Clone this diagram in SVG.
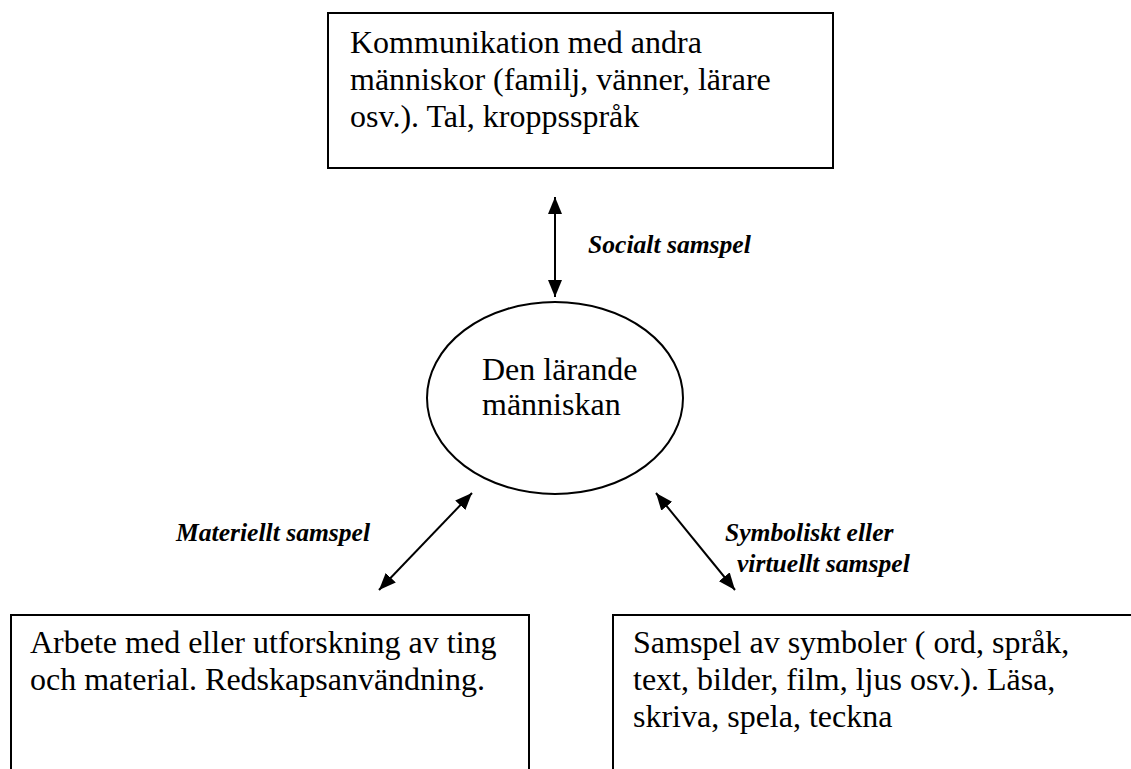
<svg xmlns="http://www.w3.org/2000/svg" width="1131" height="769" viewBox="0 0 1131 769">
<style>
.box{fill:#fff;stroke:#000;stroke-width:2}
.t{font-family:'Liberation Serif','Times New Roman',serif;font-size:32px;fill:#000}
.l{font-family:'Liberation Serif','Times New Roman',serif;font-size:25.6px;font-weight:bold;font-style:italic;fill:#000}
.c{stroke:#000;stroke-width:2;fill:none;marker-start:url(#ah);marker-end:url(#ah)}
</style>
<defs>
<marker id="ah" refX="17" refY="7" markerWidth="18" markerHeight="14" orient="auto-start-reverse" markerUnits="userSpaceOnUse">
<path d="M0,0 L17,7 L0,14 Z" fill="#000"/>
</marker>
</defs>
<rect width="1131" height="769" fill="#fff"/>
<g id="top">
<rect class="box" x="328" y="13" width="505" height="155"/>
<text class="t" x="350" y="53">Kommunikation med andra</text>
<text class="t" x="350" y="90">människor (familj, vänner, lärare</text>
<text class="t" x="350" y="127">osv.). Tal, kroppsspråk</text>
</g>
<g id="center">
<ellipse class="box" cx="555" cy="398" rx="128" ry="96"/>
<text class="t" x="482" y="380">Den lärande</text>
<text class="t" x="482" y="415">människan</text>
</g>
<g id="left">
<rect class="box" x="11" y="615" width="518" height="170"/>
<text class="t" x="30" y="653">Arbete med eller utforskning av ting</text>
<text class="t" x="30" y="690">och material. Redskapsanvändning.</text>
</g>
<g id="right">
<rect class="box" x="613" y="615" width="530" height="170"/>
<text class="t" x="633" y="653">Samspel av symboler ( ord, språk,</text>
<text class="t" x="633" y="690">text, bilder, film, ljus osv.). Läsa,</text>
<text class="t" x="633" y="727">skriva, spela, teckna</text>
</g>
<g id="connectors">
<line class="c" x1="555" y1="197" x2="555" y2="297"/>
<line class="c" x1="472" y1="493" x2="379" y2="590"/>
<line class="c" x1="656" y1="493" x2="735" y2="590"/>
<text class="l" x="588" y="253">Socialt samspel</text>
<text class="l" x="176" y="541">Materiellt samspel</text>
<text class="l" x="725" y="541">Symboliskt eller</text>
<text class="l" x="737" y="572">virtuellt samspel</text>
</g>
</svg>
